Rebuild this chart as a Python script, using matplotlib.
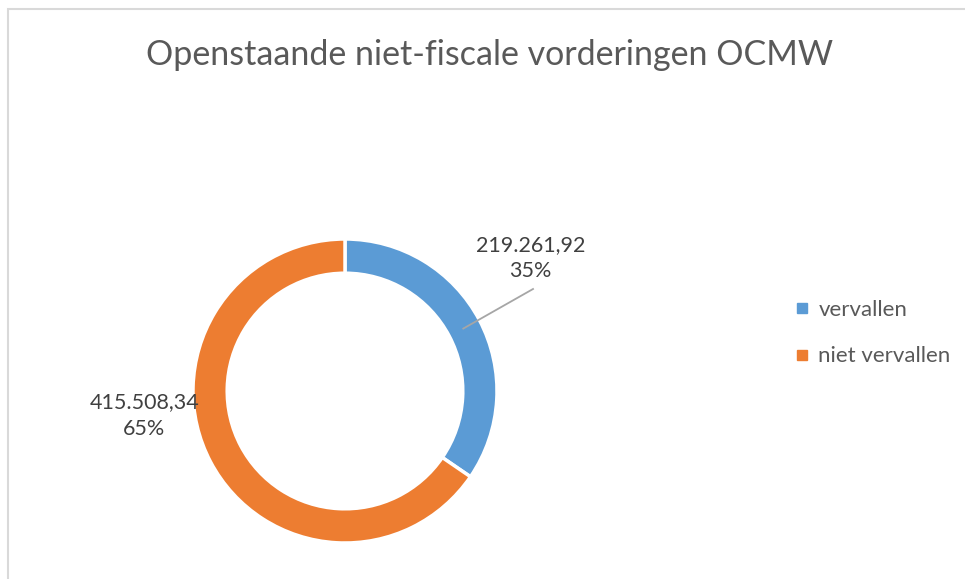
import matplotlib
matplotlib.use("Agg")
import matplotlib.pyplot as plt
from matplotlib.lines import Line2D
from matplotlib.patches import Rectangle
import numpy as np

categories = ["vervallen", "niet vervallen"]
values = [219261.92, 415508.34]
value_labels = ["219.261,92", "415.508,34"]
pct_labels = ["35%", "65%"]
colors = ["#5B9BD5", "#ED7D31"]
title = "Openstaande niet-fiscale vorderingen OCMW"

W, H = 965, 579
fig = plt.figure(figsize=(W / 100, H / 100), dpi=100)
fig.patch.set_facecolor("white")

# chart border
fig.patches.append(Rectangle((8 / W, -0.1), 1.2, (H - 9) / H + 0.1, transform=fig.transFigure,
                             fill=False, edgecolor="#D9D9D9", linewidth=1.5))

font = "Lato"
cx, cy, R = 345, H - 391, 152
ax = fig.add_axes([(cx - R) / W, (cy - R) / H, 2 * R / W, 2 * R / H])

wedges, _ = ax.pie(values, colors=colors, startangle=90, counterclock=False, radius=1,
                   wedgeprops=dict(width=0.225, edgecolor="white", linewidth=2.5))
ax.set_xlim(-1, 1)
ax.set_ylim(-1, 1)
ax.set_aspect("equal")
ax.axis("off")

# data labels
total = sum(values)
ang_blue = np.deg2rad(90 - values[0] / total * 180)
p0 = (0.88 * np.cos(ang_blue), 0.88 * np.sin(ang_blue))
ax.plot([p0[0], 1.237], [p0[1], 0.671], color="#A6A6A6", linewidth=1.3, clip_on=False)
ax.text(1.22, 0.875, value_labels[0] + "\n" + pct_labels[0], ha="center", va="center",
        fontsize=15.5, color="#404040", family=font, linespacing=1.4)
ax.text(-1.32, -0.16, value_labels[1] + "\n" + pct_labels[1], ha="center", va="center",
        fontsize=15.5, color="#404040", family=font, linespacing=1.4)

fig.text(490 / W, 1 - 55 / H, title, ha="center", va="center", fontsize=24.5,
         color="#595959", family=font)

handles = [Line2D([], [], marker="s", linestyle="none", markersize=7, color=c) for c in colors]
fig.legend(handles, categories, loc="center left", bbox_to_anchor=(785 / W, 1 - 333 / H),
           frameon=False, handlelength=0.5, handletextpad=0.5, labelspacing=1.2,
           prop=dict(family=font, size=16), labelcolor="#595959", borderpad=0)

fig.savefig("out.png", dpi=100, facecolor="white")
